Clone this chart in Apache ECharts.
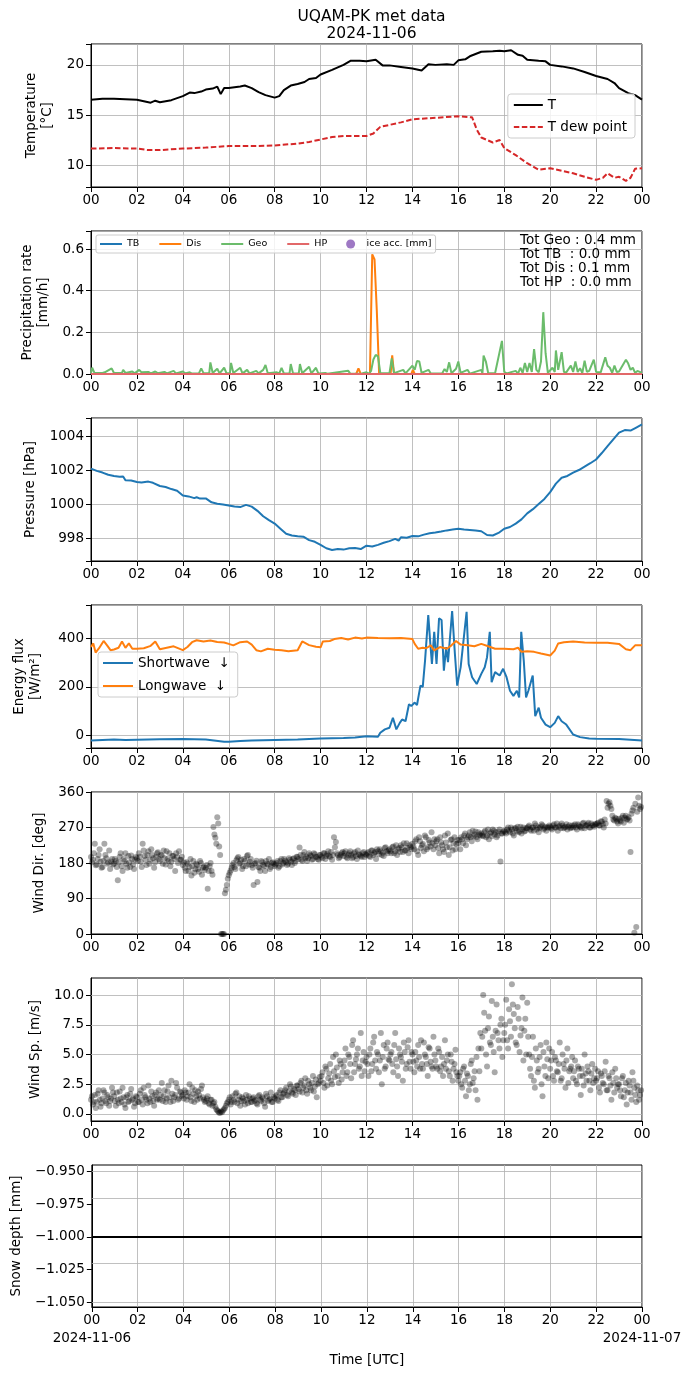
<!DOCTYPE html>
<html>
<head>
<meta charset="utf-8">
<script src="https://cdn.jsdelivr.net/npm/echarts@6/dist/echarts.min.js"></script>
<style>
html,body{margin:0;padding:0;background:#fff;}
#picture{width:692px;height:1377px;}
</style>
</head>
<body>
<div id="picture"></div>
<script>
// hour ticks on every panel
var hourTicks = ['00','02','04','06','08','10','12','14','16','18','20','22','00'];
var dayStart = '2024-11-06';
var dayEnd = '2024-11-07';

// temperature [hour, degC]
var tempT = [[0,16.55],[0.5,16.65],[1,16.65],[1.5,16.6],[2,16.55],[2.3,16.4],[2.6,16.25],[2.8,16.45],[3,16.3],[3.5,16.5],[4,16.9],[4.3,17.25],[4.5,17.2],[4.8,17.35],[5,17.55],[5.3,17.65],[5.5,17.85],[5.65,17.1],[5.8,17.7],[6,17.7],[6.5,17.85],[6.7,17.95],[7,17.7],[7.3,17.3],[7.6,17.0],[8,16.75],[8.2,16.9],[8.4,17.5],[8.7,17.95],[9,18.1],[9.3,18.3],[9.5,18.6],[9.8,18.7],[10,19.05],[10.5,19.5],[11,20.0],[11.3,20.4],[11.7,20.4],[12,20.35],[12.4,20.5],[12.7,19.95],[13,19.95],[13.5,19.8],[14,19.65],[14.4,19.45],[14.7,20.05],[15,20.0],[15.5,20.05],[15.8,20.0],[16,20.45],[16.3,20.55],[16.5,20.85],[17,21.3],[17.5,21.35],[17.8,21.4],[18,21.35],[18.3,21.45],[18.6,21.0],[18.8,20.9],[19,20.5],[19.5,20.4],[19.8,20.35],[20,20.0],[20.5,19.85],[21,19.65],[21.5,19.3],[22,18.9],[22.5,18.6],[22.8,18.2],[23,17.7],[23.4,17.2],[23.7,17.0],[24,16.55]];
var tempDew = [[0,11.7],[1,11.75],[2,11.7],[2.5,11.55],[3,11.55],[4,11.7],[5,11.8],[6,11.95],[7,11.95],[8,12.0],[9,12.2],[9.5,12.35],[10,12.6],[10.5,12.85],[11,12.95],[12,12.95],[12.3,13.2],[12.6,13.85],[13,14.05],[13.5,14.3],[14,14.6],[15,14.75],[16,14.9],[16.6,14.8],[16.8,13.6],[17,12.8],[17.3,12.5],[17.5,12.3],[17.8,12.55],[18,11.75],[18.5,11.05],[19,10.25],[19.5,9.6],[20,9.75],[20.5,9.5],[21,9.25],[21.5,8.9],[22,8.6],[22.3,8.8],[22.5,9.25],[22.8,8.8],[23,8.9],[23.3,8.5],[23.5,8.8],[23.7,9.7],[24,9.75]];

// precipitation rate [hour, mm/h]
var precTB = [[0,0],[24,0]];
var precHP = [[0,0],[24,0]];
var precDis = [[0,0],[11.55,0],[11.65,0.027],[11.75,0],[12.15,0],[12.25,0.575],[12.35,0.55],[12.45,0.3],[12.55,0],[13.05,0],[13.12,0.09],[13.2,0],[13.95,0],[14.02,0.02],[14.1,0],[24,0]];
var precGeo = [[0,0.005],[0.05,0.03],[0.15,0.005],[0.5,0.005],[0.6,0.008],[0.9,0.027],[1.0,0.005],[1.35,0.005],[1.4,0.02],[1.5,0.005],[1.8,0.012],[1.9,0.003],[2.1,0.02],[2.2,0.008],[2.5,0.01],[2.6,0.003],[2.8,0.012],[2.9,0.004],[3.2,0.01],[3.3,0.003],[3.6,0.015],[3.7,0.003],[4.0,0.012],[4.1,0.003],[4.3,0.008],[4.4,0.002],[4.7,0.003],[4.8,0.027],[4.9,0.004],[5.15,0.004],[5.2,0.056],[5.3,0.005],[5.5,0.025],[5.6,0.003],[5.8,0.03],[5.9,0.004],[6.05,0.004],[6.1,0.053],[6.2,0.005],[6.5,0.03],[6.6,0.003],[6.8,0.02],[6.9,0.003],[7.2,0.015],[7.3,0.003],[7.5,0.02],[7.6,0.043],[7.7,0.004],[8.1,0.008],[8.2,0.003],[8.3,0.03],[8.4,0.003],[8.65,0.004],[8.7,0.048],[8.8,0.003],[9.05,0.003],[9.1,0.048],[9.2,0.004],[9.5,0.035],[9.6,0.003],[9.8,0.03],[9.9,0.003],[10.2,0.005],[10.3,0.001],[11.2,0.016],[11.3,0.001],[11.8,0.002],[12.0,0.008],[12.1,0.001],[12.2,0.015],[12.3,0.07],[12.4,0.092],[12.5,0.085],[12.6,0.005],[13.0,0.004],[13.1,0.075],[13.2,0.004],[13.6,0.02],[13.7,0.003],[14.0,0.04],[14.1,0.02],[14.2,0.063],[14.3,0.06],[14.4,0.005],[14.7,0.02],[14.8,0.002],[15.3,0.004],[15.4,0.024],[15.5,0.01],[15.6,0.056],[15.7,0.004],[15.9,0.025],[16.0,0.06],[16.1,0.005],[16.4,0.02],[16.5,0.002],[17.0,0.02],[17.05,0.003],[17.1,0.088],[17.2,0.06],[17.3,0.005],[17.6,0.004],[17.9,0.159],[18.0,0.01],[18.1,0.003],[18.5,0.015],[18.6,0.002],[18.7,0.03],[18.8,0.005],[18.9,0.053],[19.0,0.01],[19.1,0.053],[19.2,0.01],[19.3,0.12],[19.4,0.02],[19.5,0.008],[19.6,0.06],[19.7,0.297],[19.8,0.1],[19.9,0.005],[20.1,0.03],[20.2,0.01],[20.25,0.113],[20.35,0.02],[20.4,0.015],[20.5,0.105],[20.6,0.01],[20.7,0.008],[20.9,0.04],[21.0,0.01],[21.1,0.06],[21.2,0.01],[21.3,0.028],[21.4,0.005],[21.5,0.064],[21.6,0.01],[21.7,0.015],[21.9,0.069],[22.0,0.01],[22.2,0.008],[22.4,0.08],[22.5,0.04],[22.6,0.03],[22.7,0.005],[22.8,0.04],[22.9,0.01],[23.0,0.012],[23.3,0.069],[23.4,0.05],[23.5,0.02],[23.6,0.03],[23.7,0.005],[23.8,0.015],[24,0.005]];
var precTotals = ['Tot Geo : 0.4 mm','Tot TB  : 0.0 mm','Tot Dis : 0.1 mm','Tot HP  : 0.0 mm'];

// pressure [hour, hPa]
var pressure = [[0,1002.08],[0.25,1001.95],[0.5,1001.85],[0.75,1001.72],[1,1001.65],[1.25,1001.6],[1.4,1001.62],[1.5,1001.4],[1.75,1001.38],[2,1001.3],[2.2,1001.27],[2.5,1001.32],[2.7,1001.25],[3,1001.06],[3.25,1001.0],[3.5,1000.88],[3.75,1000.78],[4,1000.5],[4.25,1000.45],[4.5,1000.35],[4.6,1000.4],[4.75,1000.32],[5,1000.33],[5.25,1000.1],[5.5,1000.02],[5.75,999.97],[6,999.92],[6.25,999.85],[6.5,999.82],[6.75,999.95],[7,999.85],[7.25,999.6],[7.5,999.28],[7.75,999.05],[8,998.85],[8.25,998.55],[8.5,998.25],[8.75,998.15],[9,998.1],[9.25,998.08],[9.5,997.88],[9.75,997.78],[10,997.6],[10.25,997.4],[10.5,997.3],[10.75,997.36],[11,997.32],[11.25,997.4],[11.5,997.42],[11.75,997.35],[12,997.55],[12.25,997.5],[12.5,997.6],[12.75,997.72],[13,997.82],[13.25,997.95],[13.4,997.85],[13.5,998.05],[13.75,998.02],[14,998.12],[14.25,998.1],[14.5,998.2],[14.75,998.28],[15,998.32],[15.25,998.38],[15.5,998.45],[15.75,998.5],[16,998.55],[16.25,998.5],[16.5,998.48],[16.75,998.45],[17,998.4],[17.25,998.18],[17.5,998.15],[17.75,998.3],[18,998.55],[18.25,998.65],[18.5,998.85],[18.75,999.1],[19,999.45],[19.25,999.7],[19.5,1000.0],[19.75,1000.3],[20,1000.7],[20.25,1001.2],[20.5,1001.55],[20.75,1001.65],[21,1001.85],[21.25,1002.0],[21.5,1002.2],[21.75,1002.4],[22,1002.62],[22.25,1003.0],[22.5,1003.4],[22.75,1003.8],[23,1004.2],[23.25,1004.35],[23.5,1004.32],[23.75,1004.5],[24,1004.68]];

// radiation [hour, W/m2]
var shortwave = [[0,-22],[0.5,-20],[1,-18],[1.5,-20],[2,-19],[3,-17],[4,-16],[5,-18],[5.8,-27],[6,-27],[6.5,-24],[7,-22],[8,-20],[9,-18],[10,-14],[11,-12],[11.5,-10],[12,-4],[12.5,-6],[12.6,10],[12.8,24],[13,31],[13.15,72],[13.3,24],[13.45,51],[13.55,65],[13.7,58],[13.85,128],[13.95,121],[14.1,135],[14.2,125],[14.35,205],[14.45,200],[14.55,309],[14.69,497],[14.78,379],[14.85,295],[14.95,428],[15.05,295],[15.16,484],[15.27,477],[15.37,267],[15.47,365],[15.55,302],[15.73,514],[15.85,337],[15.95,205],[16.1,281],[16.36,511],[16.45,295],[16.6,240],[16.8,212],[17.0,254],[17.15,281],[17.25,323],[17.37,428],[17.45,219],[17.6,261],[17.8,247],[17.95,275],[18.1,240],[18.25,184],[18.4,163],[18.55,184],[18.65,156],[18.74,428],[18.85,309],[18.95,156],[19.05,184],[19.24,247],[19.35,79],[19.5,114],[19.6,72],[19.8,44],[20.0,33],[20.2,51],[20.35,79],[20.5,58],[20.7,44],[21,3],[21.3,-8],[21.7,-14],[22,-15],[23,-16],[24,-22]];
var longwave = [[0,365],[0.1,380],[0.2,342],[0.35,360],[0.55,390],[0.7,372],[0.85,352],[1,355],[1.2,362],[1.35,388],[1.5,362],[1.65,380],[1.8,358],[2,358],[2.3,360],[2.6,370],[2.8,388],[3,356],[3.3,362],[3.6,368],[4,352],[4.2,365],[4.4,385],[4.6,393],[4.9,388],[5.2,392],[5.5,386],[5.8,384],[6,378],[6.2,372],[6.5,385],[6.8,388],[7,375],[7.2,352],[7.4,347],[7.7,358],[8,354],[8.3,352],[8.6,348],[9,352],[9.2,388],[9.5,373],[9.8,366],[10,364],[10.1,388],[10.4,390],[10.6,398],[10.9,402],[11.2,396],[11.5,404],[11.8,400],[12,404],[12.5,402],[13,401],[13.5,402],[14,398],[14.1,378],[14.25,358],[14.45,362],[14.6,360],[14.8,372],[14.95,351],[15.2,365],[15.5,358],[15.7,372],[15.9,390],[16.1,375],[16.4,372],[16.7,368],[17,378],[17.3,368],[17.6,358],[18,358],[18.4,356],[18.6,362],[18.75,345],[19,348],[19.3,345],[19.6,338],[20,330],[20.2,350],[20.35,380],[20.6,385],[21,388],[21.5,384],[22,383],[22.5,383],[23,378],[23.3,356],[23.5,352],[23.7,372],[24,372]];

// wind direction, every 5 min from 00:00, one row per hour
var windDir = [
195,188,229,176,200,183,170,229,192,181,165,190,
178,185,136,196,172,190,205,168,182,199,176,188,
192,205,183,229,198,175,210,188,200,168,195,207,
185,199,212,176,190,205,183,198,160,195,210,188,
175,168,182,160,190,172,155,178,165,185,150,170,
168,115,172,160,271,244,296,222,0,0,103,124,
149,161,175,170,187,195,180,165,190,172,200,183,
174,124,180,132,168,185,175,160,178,190,170,182,
172,180,168,185,176,190,182,178,188,175,192,185,
195,219,188,200,192,185,205,198,190,202,195,188,
200,192,205,198,210,195,188,245,233,200,195,205,
198,210,192,205,200,195,208,190,202,198,205,195,
200,208,195,212,205,190,210,215,200,198,220,205,
215,205,222,210,200,218,225,208,212,230,205,220,
229,215,240,200,235,225,210,245,220,232,258,215,
225,240,205,232,215,250,220,200,238,212,245,228,
230,215,240,250,225,245,258,235,248,260,240,252,
255,248,262,250,240,258,265,252,245,260,184,255,
262,255,270,258,265,250,268,272,260,255,270,262,
268,275,262,270,280,265,258,272,275,268,262,270,
272,265,278,270,262,275,280,268,272,265,276,270,
270,278,265,275,272,280,268,275,282,270,276,272,
278,282,275,285,270,280,320,334,317,290,295,285,
292,285,300,295,290,296,208,313,3,18,346,317
];
// wind direction, every 5 min from 00:02:30
var windDirB = [
182,205,174,190,215,168,186,200,178,212,184,176,
190,170,182,205,160,185,178,198,170,190,165,195,
185,196,170,212,188,200,178,215,192,182,205,190,
200,178,192,210,185,172,198,190,205,180,188,196,
182,160,178,170,148,185,165,175,158,180,168,162,
175,160,180,150,252,229,280,200,0,0,112,140,
155,168,180,165,192,178,188,172,185,198,176,190,
168,178,186,170,160,182,172,185,176,165,180,178,
176,185,172,190,180,186,175,192,183,190,180,196,
190,200,185,208,196,192,200,188,205,196,190,200,
196,205,190,202,198,208,200,220,205,192,200,208,
205,195,200,210,192,205,198,212,200,195,208,202,
205,198,212,200,208,215,202,210,206,218,210,212,
210,220,205,225,215,208,220,230,212,218,225,215,
222,235,210,245,218,228,250,215,238,222,230,240,
235,218,245,225,208,232,255,220,240,230,215,238,
238,245,230,255,240,250,245,262,252,245,258,250,
250,258,245,265,255,248,262,258,250,265,255,260,
258,265,262,270,255,268,262,258,272,265,260,268,
272,265,270,262,275,270,268,278,265,272,270,275,
268,275,270,280,272,268,275,270,278,272,268,275,
275,270,278,272,268,282,275,278,270,280,275,278,
280,275,286,278,290,337,330,325,300,288,292,280,
288,295,282,300,292,288,305,320,330,310,325,322
];
// wind speed, every 5 min from 00:00
var windSpd = [
1.2,0.8,1.6,1.0,2.0,0.6,1.3,1.8,0.9,1.4,1.1,2.2,
1.5,0.7,1.2,1.9,1.0,1.4,0.5,1.6,1.1,2.1,1.3,0.9,
1.4,1.0,2.0,0.8,1.6,1.2,2.4,1.0,1.5,0.7,1.8,1.3,
1.2,2.6,1.5,1.0,1.9,1.4,2.8,1.1,1.6,2.2,1.3,1.8,
1.6,2.0,1.2,1.8,1.4,2.2,1.0,1.5,1.9,1.3,2.4,1.2,
1.1,1.5,0.8,1.2,0.9,0.6,0.3,0.1,0.2,0.3,0.5,0.9,
1.2,0.8,1.5,1.0,1.8,1.2,0.7,1.4,1.1,1.6,0.9,1.3,
1.0,1.4,1.2,0.8,1.6,1.1,1.3,0.6,1.5,1.2,1.8,1.0,
1.3,1.6,1.1,2.0,1.4,1.8,2.2,1.5,2.5,1.8,2.1,1.6,
2.4,1.9,2.8,2.2,3.0,1.7,2.5,2.0,3.2,2.3,1.4,2.6,
2.8,3.5,2.2,3.8,3.0,4.2,2.5,3.6,5.0,3.2,4.5,2.9,
4.0,5.5,3.5,4.8,3.0,6.2,4.2,5.0,3.8,6.8,4.5,3.6,
4.8,3.2,5.5,4.2,6.5,3.8,5.0,4.5,2.5,5.8,4.0,6.0,
4.5,5.2,3.5,6.8,4.0,5.5,4.8,2.8,5.2,4.2,6.2,3.8,
5.0,3.5,4.5,5.8,3.8,4.2,6.0,4.8,3.2,5.5,4.0,6.5,
4.5,3.8,5.2,4.0,3.2,6.2,4.5,3.6,5.0,2.8,4.2,3.5,
2.8,3.5,2.2,4.0,1.5,3.2,2.5,4.5,3.0,2.0,1.2,3.6,
5.5,10.0,7.0,4.0,8.2,5.8,6.5,3.5,9.2,6.2,7.5,4.8,
6.8,9.6,5.5,7.8,10.9,8.4,6.0,9.0,5.2,7.2,4.5,8.0,
9.35,5.0,3.2,6.5,2.2,4.5,3.8,5.8,1.5,4.0,6.0,3.0,
3.8,5.2,2.8,4.5,3.5,6.0,3.0,4.2,2.2,5.5,3.6,4.0,
3.0,4.5,2.5,3.8,1.6,3.2,5.0,2.8,3.6,2.0,4.2,3.0,
2.8,3.6,1.8,3.2,2.5,4.4,2.0,3.0,1.2,2.6,3.8,2.2,
2.5,1.5,3.2,2.0,0.8,2.8,1.8,3.5,2.2,1.0,2.0,1.6
];
// wind speed, every 5 min from 00:02:30
var windSpdB = [
1.5,1.0,0.5,1.7,1.2,0.9,2.0,1.1,1.6,0.7,1.3,1.8,
1.1,1.8,0.9,1.3,2.2,0.8,1.4,1.0,1.7,1.2,0.6,1.5,
1.0,1.7,1.2,2.2,1.4,0.9,1.3,1.9,1.1,1.6,1.2,2.0,
1.6,1.1,2.0,1.3,2.4,1.0,1.7,1.4,2.6,1.2,1.9,1.5,
1.3,1.8,1.5,2.5,1.1,1.7,2.0,1.2,1.6,2.1,1.4,1.0,
1.3,0.9,1.2,0.7,1.0,0.4,0.2,0.1,0.15,0.4,0.7,1.0,
1.4,1.0,1.2,1.7,0.9,1.5,1.1,1.3,0.8,1.2,1.5,1.0,
1.3,1.1,0.9,1.5,1.2,1.4,0.9,1.7,1.1,1.3,1.0,1.4,
1.5,1.2,1.8,1.4,1.7,2.0,1.6,1.9,2.3,1.7,2.0,2.4,
2.1,2.6,1.8,2.4,2.0,2.8,2.2,2.6,1.9,2.9,2.5,3.1,
3.2,2.6,4.0,2.4,3.4,2.8,4.8,3.1,3.9,2.6,4.2,3.5,
4.5,3.2,5.0,4.2,5.8,3.5,4.6,5.5,4.0,3.2,5.2,4.4,
4.2,5.0,3.6,6.0,4.5,5.2,3.5,6.8,4.8,3.8,5.5,4.6,
5.0,4.2,5.8,4.6,3.2,5.0,4.4,6.0,3.8,5.6,4.4,5.2,
4.4,5.2,4.0,4.8,6.2,3.8,5.0,4.2,5.6,4.4,3.8,5.0,
4.0,5.5,3.6,4.8,4.2,3.8,5.0,3.2,4.4,3.8,5.4,3.2,
3.2,2.5,3.8,2.8,3.4,2.0,4.2,2.6,3.6,4.8,5.5,6.8,
6.5,8.5,5.0,7.2,6.0,9.5,5.2,7.0,6.8,5.5,8.0,6.2,
7.5,6.2,8.8,6.5,9.2,7.2,5.8,8.0,6.6,9.8,7.0,5.0,
6.5,3.8,4.8,2.8,5.5,3.5,4.8,2.5,5.2,3.2,4.6,5.5,
4.5,3.2,4.8,3.6,4.2,2.8,5.0,3.8,4.5,2.6,3.8,4.8,
3.6,2.8,4.0,3.2,3.8,2.4,3.4,4.0,2.8,3.4,2.6,3.8,
3.0,2.2,3.4,2.6,3.6,2.0,3.2,2.4,3.5,1.8,3.0,2.5,
2.0,3.0,1.4,2.6,1.8,2.4,1.2,2.8,1.6,2.4,1.2,2.0
];
var windSpdTicks = [0, 2.5, 5, 7.5, 10];

// snow depth [hour, mm]
var snowDepth = [[0,-1],[24,-1]];
var snowTicks = [-1.05, -1.025, -1.0, -0.975, -0.95];

var FONT = 'DejaVu Sans';
var tops = [44, 231, 418, 605, 792, 978, 1165];
var heights = [143, 143, 143, 143, 142, 143, 142];

function minus(s) { return String(s).replace('-', '\u2212'); }
function stepFmt(step, dec) {
    return function (v) {
        var k = v / step;
        if (Math.abs(k - Math.round(k)) > 1e-6) return '';
        return minus(v.toFixed(dec));
    };
}
// samples taken every 5 minutes, starting offMin minutes after 00:00
function sampled(vals, offMin) {
    return vals.map(function (v, i) { return [(i * 5 + offMin) / 60, v]; });
}

var grids = [], xAxes = [], yAxes = [];
for (var i = 0; i < 7; i++) {
    grids.push({left: 91, width: 551, top: tops[i], height: heights[i],
        show: true, borderColor: '#000', borderWidth: 1, backgroundColor: '#fff'});
    xAxes.push({
        type: 'value', gridIndex: i, min: 0, max: 24, interval: 2, position: 'bottom',
        axisLine: {show: true, onZero: false, lineStyle: {color: '#000', width: 1}},
        axisTick: {show: true, length: 5, lineStyle: {color: '#000'}},
        splitLine: {show: true, lineStyle: {color: '#b0b0b0', width: 0.8}},
        axisLabel: {
            color: '#000', fontFamily: FONT, fontSize: 13.5, margin: 6, hideOverlap: false,
            showMinLabel: true, showMaxLabel: true,
            formatter: function (v) { return hourTicks[Math.round(v / 2)]; }
        },
        name: i == 6 ? 'Time [UTC]' : '',
        nameLocation: 'middle', nameGap: 46,
        nameTextStyle: {color: '#000', fontFamily: FONT, fontSize: 13.5}
    });
}
// second row of the bottom axis: the dates
xAxes.push({
    type: 'value', gridIndex: 6, min: 0, max: 24, position: 'bottom', offset: 0,
    axisLine: {show: false}, axisTick: {show: false}, splitLine: {show: false},
    axisLabel: {
        color: '#000', fontFamily: FONT, fontSize: 13.5, margin: 24, hideOverlap: false,
        customValues: [0, 24],
        formatter: function (v) { return v < 12 ? dayStart : dayEnd; }
    }
});

function yAxis(idx, name, gap, min, max, extra) {
    var a = {
        type: 'value', gridIndex: idx, min: min, max: max, scale: true,
        name: name, nameLocation: 'middle', nameGap: gap, nameRotate: 90,
        nameTextStyle: {color: '#000', fontFamily: FONT, fontSize: 13.5, lineHeight: 16, align: 'center'},
        axisLine: {show: true, onZero: false, lineStyle: {color: '#000', width: 1}},
        axisTick: {show: true, length: 5, lineStyle: {color: '#000'}},
        splitLine: {show: true, lineStyle: {color: '#b0b0b0', width: 0.8}},
        axisLabel: {color: '#000', fontFamily: FONT, fontSize: 13.5, margin: 7,
            showMinLabel: true, showMaxLabel: true, hideOverlap: false}
    };
    for (var k in extra) {
        if (k == 'axisLabel' || k == 'axisTick' || k == 'splitLine') {
            for (var kk in extra[k]) a[k][kk] = extra[k][kk];
        } else a[k] = extra[k];
    }
    return a;
}

yAxes.push(yAxis(0, 'Temperature\n[°C]', 34, 7.89, 22.07, {splitNumber: 3, axisLabel: {formatter: stepFmt(5, 0)}}));
yAxes.push(yAxis(1, 'Precipitation rate\n[mm/h]', 38, 0, 0.687, {splitNumber: 3, axisLabel: {formatter: stepFmt(0.2, 1)}}));
yAxes.push(yAxis(2, 'Pressure [hPa]', 50, 996.65, 1005.06, {splitNumber: 4, axisLabel: {formatter: stepFmt(2, 0)}}));
yAxes.push(yAxis(3, 'Energy flux\n[W/m²]', 48, -53, 539, {splitNumber: 3, axisLabel: {formatter: stepFmt(200, 0)}}));
yAxes.push(yAxis(4, 'Wind Dir. [deg]', 37, 0, 360, {interval: 90, axisLabel: {formatter: stepFmt(90, 0)}}));
yAxes.push(yAxis(5, 'Wind Sp. [m/s]', 46, -0.59, 11.43, {
    axisLabel: {customValues: windSpdTicks, formatter: function (v) { return v.toFixed(1); }},
    axisTick: {customValues: windSpdTicks},
    splitLine: {show: false}
}));
yAxes.push(yAxis(6, 'Snow depth [mm]', 66, -1.0536, -0.9449, {
    axisLabel: {customValues: snowTicks, formatter: function (v) { return minus(v.toFixed(3)); }},
    axisTick: {customValues: snowTicks},
    splitLine: {show: false}
}));

function gridMarks(vals) {
    return {
        silent: true, symbol: ['none', 'none'], animation: false, z: 1,
        label: {show: false}, emphasis: {disabled: true},
        lineStyle: {color: '#b0b0b0', width: 0.8, type: 'solid'},
        data: vals.map(function (v) { return {yAxis: v}; })
    };
}

function line(name, idx, data, color, width, type) {
    return {
        name: name, type: 'line', xAxisIndex: idx, yAxisIndex: idx, data: data,
        symbol: 'none', showSymbol: false, smooth: false,
        lineStyle: {color: color, width: width, type: type || 'solid'},
        itemStyle: {color: color}, emphasis: {disabled: true}
    };
}
function dots(name, idx, data) {
    return {name: name, type: 'scatter', xAxisIndex: idx, yAxisIndex: idx, data: data,
        symbolSize: 6, itemStyle: {color: 'rgba(0,0,0,0.42)'}, emphasis: {disabled: true}};
}

function legend(extra) {
    var l = {
        orient: 'vertical', backgroundColor: 'rgba(255,255,255,0.8)',
        borderColor: '#cccccc', borderWidth: 1, borderRadius: 3,
        textStyle: {color: '#000', fontFamily: FONT, fontSize: 13.5},
        itemStyle: {opacity: 0},
        selectedMode: false
    };
    for (var k in extra) l[k] = extra[k];
    return l;
}

var windSpdSeries = dots('wind speed', 5, sampled(windSpd, 0).concat(sampled(windSpdB, 2.5)));
windSpdSeries.markLine = gridMarks(windSpdTicks);
var snowSeries = line('snow', 6, snowDepth, '#000000', 2);
snowSeries.markLine = gridMarks(snowTicks);

var series = [
    line('T', 0, tempT, '#000000', 2),
    line('T dew point', 0, tempDew, '#d62728', 2, [5.5, 2.5]),
    line('TB', 1, precTB, '#1f77b4', 2),
    line('Dis', 1, precDis, '#ff7f0e', 2),
    line('Geo', 1, precGeo, '#6bbc6b', 2),
    line('HP', 1, precHP, '#e26869', 2),
    {name: 'ice acc. [mm]', type: 'scatter', xAxisIndex: 1, yAxisIndex: 1, data: [],
        symbolSize: 6, itemStyle: {color: '#9e78c4'}},
    line('pressure', 2, pressure, '#1f77b4', 2),
    line('Shortwave ↓', 3, shortwave, '#1f77b4', 2),
    line('Longwave ↓', 3, longwave, '#ff7f0e', 2),
    dots('wind dir', 4, sampled(windDir, 0).concat(sampled(windDirB, 2.5))),
    windSpdSeries,
    snowSeries
];

var myChart = echarts.init(document.getElementById('picture'), null, {renderer: 'canvas'});
var option = {
    animation: false,
    backgroundColor: '#ffffff',
    title: {
        text: 'UQAM-PK met data\n' + dayStart,
        left: 366.5, top: 3, textAlign: 'center',
        textStyle: {color: '#000', fontFamily: FONT, fontSize: 15.5, fontWeight: 'normal', lineHeight: 17}
    },
    grid: grids,
    xAxis: xAxes,
    yAxis: yAxes,
    legend: [
        legend({data: ['T', 'T dew point'], right: 57, top: 94, itemWidth: 29, itemHeight: 14,
            itemGap: 8, padding: [4, 8, 4, 5]}),
        legend({data: ['Shortwave  ↓', 'Longwave  ↓'], left: 98, top: 652, itemWidth: 30, itemHeight: 14,
            itemGap: 9, padding: [4, 8, 4, 4]}),
        legend({data: ['TB', 'Dis', 'Geo', 'HP', {name: 'ice acc. [mm]', itemStyle: {opacity: 1}}],
            orient: 'horizontal', left: 96, top: 235,
            itemWidth: 22, itemHeight: 9, itemGap: 19, padding: [4, 4, 4, 3], borderRadius: 2,
            textStyle: {color: '#000', fontFamily: FONT, fontSize: 9.5}})
    ],
    graphic: [{
        type: 'text', right: 56, top: 233, z: 10,
        style: {text: precTotals.join('\n'), align: 'right', fill: '#000',
            font: '13.5px "DejaVu Sans"', lineHeight: 14}
    }],
    series: series
};
// legend names carry two spaces before the arrow, as in the original
option.series[8].name = 'Shortwave  ↓';
option.series[9].name = 'Longwave  ↓';
myChart.setOption(option);
</script>
</body>
</html>
